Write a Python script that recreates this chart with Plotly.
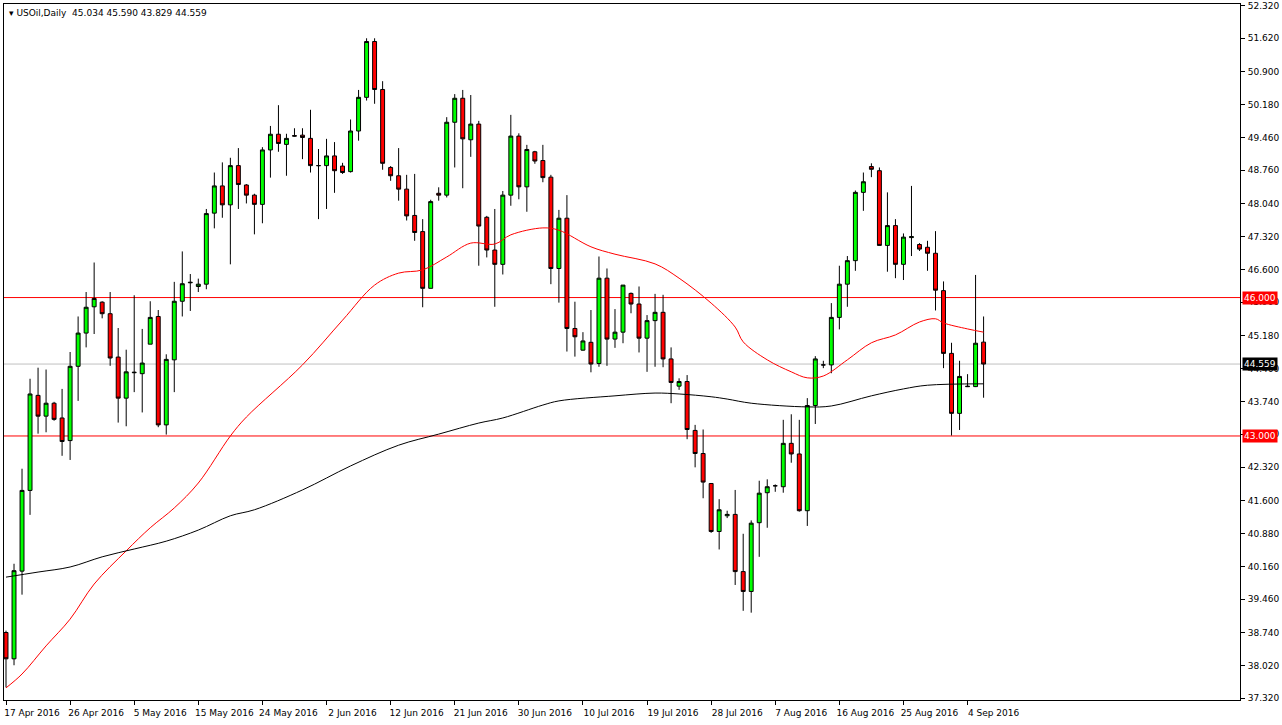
import plotly.graph_objects as go
import datetime as dt

# ---- data ----
opens = [38.74,38.17,40.07,41.82,43.88,43.43,43.71,43.39,42.90,44.51,45.23,45.80,45.90,45.65,44.71,43.82,44.37,44.35,44.99,45.59,
         43.24,44.65,45.92,46.32,46.24,46.29,47.83,48.42,48.01,48.86,48.44,48.22,48.02,49.20,49.54,49.32,49.51,49.52,49.45,48.86,
         48.86,49.07,48.85,48.73,49.61,50.34,51.55,50.51,48.82,48.64,48.35,47.78,47.43,46.20,48.26,48.22,49.80,50.32,49.42,49.76,
         47.74,47.03,46.72,48.22,49.50,48.40,49.16,48.97,48.61,46.63,47.72,45.33,44.86,45.03,44.57,46.42,45.10,45.25,46.09,45.86,
         45.12,45.50,45.68,44.67,44.08,44.18,43.12,42.62,41.97,40.93,41.27,41.30,40.06,39.63,41.12,41.77,41.92,41.90,42.84,42.61,
         41.38,43.66,44.54,44.54,45.57,46.29,46.80,48.28,48.84,48.75,47.13,47.56,46.72,47.30,47.15,47.09,46.96,46.15,44.79,43.49,
         44.08,44.07,45.034]
highs = [38.78,40.23,42.29,44.24,44.48,44.44,43.74,44.02,44.82,45.59,46.12,46.76,45.92,46.12,45.34,44.87,46.05,45.32,45.92,45.73,
         44.77,46.34,47.00,46.51,46.41,47.92,48.71,48.93,49.03,49.24,48.46,48.25,49.26,49.72,50.17,49.55,49.67,49.67,50.07,49.22,
         49.44,49.37,48.92,49.86,50.50,51.62,51.62,50.69,48.85,49.24,48.66,48.68,47.70,48.12,48.39,49.91,50.41,50.50,50.39,49.83,
         47.77,47.92,48.31,49.96,49.56,49.31,49.18,49.31,48.66,47.90,48.22,45.91,45.25,45.73,46.89,46.63,45.75,46.27,46.11,46.24,
         45.62,46.08,46.06,44.92,44.25,44.32,43.24,43.14,41.97,41.63,41.38,41.83,40.88,41.17,42.03,42.06,41.95,43.35,43.47,43.35,
         43.82,44.73,44.63,45.88,46.69,46.90,48.32,48.71,48.91,48.82,48.28,47.70,47.39,48.42,47.18,47.23,47.44,46.35,45.02,44.63,
         44.34,46.49,45.590]
lows = [37.55,38.03,39.56,41.29,43.05,43.08,43.33,42.57,42.48,43.76,44.92,45.21,45.55,44.52,43.29,43.21,43.95,43.51,44.99,43.19,
        43.03,43.95,45.59,45.71,46.12,46.18,47.50,47.73,46.72,47.92,48.04,47.37,47.61,48.60,49.16,48.64,49.49,49.00,48.71,47.70,
        47.92,48.27,48.68,48.71,49.40,50.27,50.20,48.77,48.53,48.10,47.67,47.23,45.79,46.20,48.10,48.17,48.82,48.37,49.05,46.69,
        46.87,45.80,46.50,47.99,48.13,47.86,48.90,48.50,46.29,45.89,44.83,44.72,44.85,44.38,44.50,44.52,44.91,45.01,45.66,44.81,
        44.39,44.50,44.49,43.71,44.00,42.93,42.32,41.65,40.90,40.54,41.22,39.77,39.21,39.17,40.38,41.01,41.79,41.77,42.42,41.36,
        41.05,43.26,44.47,44.36,45.31,45.80,46.58,47.88,48.61,47.13,46.56,46.42,46.38,46.90,47.01,46.58,45.72,44.47,43.01,43.13,
        44.06,44.06,43.829]
closes = [38.17,40.08,41.82,43.91,43.43,43.71,43.36,42.88,44.51,45.23,45.79,45.98,45.65,44.69,43.82,44.39,44.38,44.58,45.57,43.24,
          44.66,45.92,46.30,46.33,46.29,47.82,48.42,48.01,48.86,48.45,48.22,48.02,49.20,49.54,49.34,49.45,49.50,49.47,48.86,48.86,
          49.07,48.75,48.71,49.61,50.34,51.55,50.51,48.91,48.64,48.35,47.77,47.41,46.20,48.08,48.22,49.80,50.32,49.44,49.76,47.55,
          47.03,46.72,48.22,49.50,48.40,49.21,48.96,48.60,46.63,47.72,45.33,45.15,45.06,44.56,46.42,45.10,45.25,46.27,45.86,45.12,
          45.50,45.68,44.67,44.16,44.18,43.14,42.62,42.00,40.93,41.40,41.30,40.06,39.63,41.11,41.76,41.90,41.92,42.84,42.61,41.38,
          43.66,44.67,44.54,45.57,46.29,46.80,48.28,48.51,48.78,47.13,47.56,46.72,47.31,47.32,47.05,46.96,46.16,44.79,43.49,44.29,
          44.07,45.01,44.559]

ma_fast_bar = [0,2,5,8,11,15,18,21,24,28,30,37,42,46,49,52,55,58,61,63,67,69,73,76,81,84,88,91,92,95,98,100,102,105,108,111,114,116,117,120,122]
ma_fast_val = [37.54,37.84,38.45,39.03,39.79,40.51,41.01,41.44,41.98,43.00,43.41,44.54,45.51,46.27,46.53,46.60,46.88,47.18,47.16,47.36,47.51,47.46,
               47.10,46.94,46.73,46.42,45.88,45.36,45.04,44.65,44.39,44.26,44.30,44.65,45.02,45.19,45.47,45.54,45.45,45.32,45.25]
ma_slow_bar = [0,4,8,12,16,20,24,28,31,37,43,49,54,59,62,67,69,76,81,84,88,90,93,100,103,108,112,115,122]
ma_slow_val = [39.94,40.05,40.16,40.38,40.55,40.72,40.96,41.27,41.40,41.83,42.35,42.80,43.04,43.28,43.39,43.67,43.76,43.87,43.93,43.91,43.85,43.80,
               43.71,43.63,43.65,43.87,44.02,44.10,44.13]

level_lines = [46.0, 43.0]
last_price = 44.559
y_ticks = [52.320, 51.620, 50.900, 50.180, 49.460, 48.760, 48.040, 47.320, 46.600, 45.900, 45.180,
           44.460, 43.740, 43.040, 42.320, 41.600, 40.880, 40.160, 39.460, 38.740, 38.020, 37.320]

# dates: Sun-Fri bars starting 17 Apr 2016
dates = []
d = dt.date(2016, 4, 17)
while len(dates) < len(opens) + 40:
    if d.weekday() != 5:
        dates.append(d)
    d += dt.timedelta(days=1)
tick_bars = list(range(0, 128, 8))
tick_text = [f"{dates[b].day} {dates[b].strftime('%b %Y')}" for b in tick_bars]

bars = list(range(len(opens)))
FONT = "DejaVu Sans"
FS = 9

fig = go.Figure()
fig.add_trace(go.Candlestick(
    x=bars, open=opens, high=highs, low=lows, close=closes,
    increasing=dict(line=dict(color="black", width=1), fillcolor="#00ff00"),
    decreasing=dict(line=dict(color="black", width=1), fillcolor="#ff0000"),
    whiskerwidth=0, showlegend=False, hoverinfo="skip"))
fig.add_trace(go.Scatter(x=ma_fast_bar, y=ma_fast_val, mode="lines", line=dict(color="#ff0000", width=1, shape="spline"),
                         showlegend=False, hoverinfo="skip"))
fig.add_trace(go.Scatter(x=ma_slow_bar, y=ma_slow_val, mode="lines", line=dict(color="black", width=1, shape="spline"),
                         showlegend=False, hoverinfo="skip"))

for lv in level_lines:
    fig.add_hline(y=lv, line=dict(color="#ff0000", width=1), layer="below")
fig.add_hline(y=last_price, line=dict(color="#c0c0c0", width=1), layer="below")

for lv, bg in [(46.0, "#ff0000"), (43.0, "#ff0000"), (last_price, "black")]:
    fig.add_annotation(x=1, xref="paper", y=lv, yref="y", text=f"{lv:.3f}", showarrow=False,
                       xanchor="left", xshift=2, bgcolor=bg, font=dict(color="white", size=FS, family=FONT),
                       borderpad=1)

fig.add_annotation(x=0, xref="paper", y=1, yref="paper", text="▾ USOil,Daily  45.034 45.590 43.829 44.559",
                   showarrow=False, xanchor="left", yanchor="top", xshift=3, yshift=-2,
                   font=dict(color="black", size=FS, family=FONT))

fig.update_layout(
    width=1282, height=725, paper_bgcolor="white", plot_bgcolor="white",
    margin=dict(l=4, r=42, t=4, b=25, autoexpand=False),
    xaxis=dict(range=[-0.25, 154], tickvals=tick_bars, ticktext=tick_text, ticks="outside", ticklen=4,
               tickcolor="black", showgrid=False, zeroline=False, rangeslider=dict(visible=False),
               showline=True, linecolor="black", mirror=True, ticklabelshift=26, tickangle=0, automargin=False,
               tickfont=dict(size=FS, family=FONT, color="black")),
    yaxis=dict(side="right", range=[37.277, 52.363], tickvals=y_ticks, ticktext=[f"{v:.3f}" for v in y_ticks],
               ticks="outside", ticklen=4, tickcolor="black", showgrid=False, zeroline=False,
               showline=True, linecolor="black", mirror=True, ticklabelstandoff=1, automargin=False,
               tickfont=dict(size=FS, family=FONT, color="black")),
)
fig.write_html("out.html", config={"displayModeBar": False},
               post_script="document.body.style.margin='0';document.body.style.overflow='hidden';")
